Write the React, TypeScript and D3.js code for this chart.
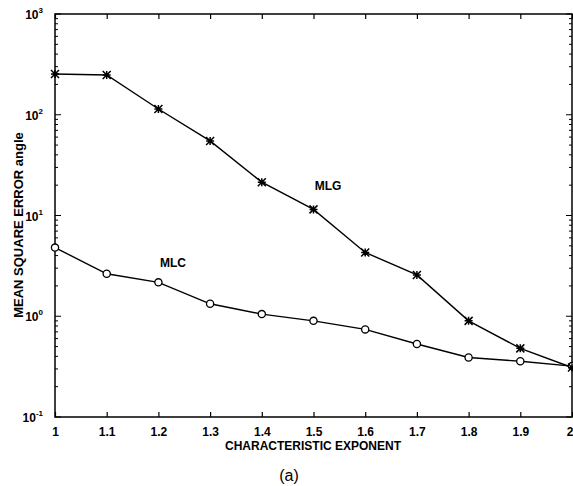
import React, { useEffect, useRef } from 'react'
import { select, scaleLinear, scaleLog, line, axisBottom, axisTop } from 'd3'

// characteristic exponent on x, mean square error (log) on y
const exponents = [1, 1.1, 1.2, 1.3, 1.4, 1.5, 1.6, 1.7, 1.8, 1.9, 2]
const mlgValues = [254, 248, 114, 55, 21.4, 11.5, 4.3, 2.57, 0.9, 0.48, 0.31]
const mlcValues = [4.8, 2.64, 2.17, 1.33, 1.05, 0.9, 0.74, 0.53, 0.39, 0.357, 0.32]
const yDecades = [-1, 0, 1, 2, 3]
const minorSteps = [2, 3, 4, 5, 6, 7, 8, 9]

const W = 573
const H = 486
const left = 55
const right = 572
const top = 14
const bottom = 417
const FONT = '"Liberation Sans", Arial, sans-serif'

function Chart() {
  const svgRef = useRef<SVGSVGElement>(null)

  useEffect(() => {
    const svg = select(svgRef.current)
    svg.selectAll('*').remove()

    const x = scaleLinear().domain([1, 2]).range([left, right])
    const y = scaleLog().domain([0.1, 1000]).range([bottom, top])

    const fmt = (d: any) => (d === 1 || d === 2 ? String(d) : (+d).toFixed(1))

    // bottom axis with inward ticks
    const xAxis = axisBottom(x).tickValues(exponents).tickSizeInner(-5).tickSizeOuter(0).tickPadding(10).tickFormat(fmt)
    const gx = svg.append('g').attr('transform', `translate(0,${bottom})`).call(xAxis)
    gx.select('.domain').remove()
    gx.selectAll('text').attr('font-family', FONT).attr('font-size', 12).attr('font-weight', 'bold').attr('fill', '#000')
    // last label sits right on the page edge, nudge it in so it stays readable
    gx.selectAll('text').filter((d: any) => d === 2).attr('text-anchor', 'end').attr('x', 1)

    const xTop = axisTop(x).tickValues(exponents).tickSizeInner(-5).tickSizeOuter(0).tickFormat(() => '')
    const gt = svg.append('g').attr('transform', `translate(0,${top})`).call(xTop)
    gt.select('.domain').remove()

    svg.selectAll('.tick line').attr('stroke', '#000').attr('stroke-width', 1.2)

    // y ticks, major + log minors, both sides
    const minors: number[] = []
    yDecades.slice(0, -1).forEach(e => minorSteps.forEach(m => minors.push(m * Math.pow(10, e))))
    const yt = svg.append('g')
    const majors = yDecades.map(e => Math.pow(10, e))
    yt.selectAll('.ymaj').data(majors).join('path')
      .attr('d', d => `M${left},${y(d)}h6M${right},${y(d)}h-6`)
      .attr('stroke', '#000').attr('stroke-width', 1.2)
    yt.selectAll('.ymin').data(minors).join('path')
      .attr('d', d => `M${left},${y(d)}h3M${right},${y(d)}h-3`)
      .attr('stroke', '#000').attr('stroke-width', 1)

    const lbl = svg.append('g').selectAll('text').data(yDecades).join('text')
      .attr('x', 43).attr('y', e => y(Math.pow(10, e)) + 5)
      .attr('text-anchor', 'end')
      .attr('font-family', FONT).attr('font-weight', 'bold').attr('font-size', 12)
    lbl.append('tspan').text('10')
    lbl.append('tspan').attr('dy', -6).attr('font-size', 8).text(e => String(e))

    // frame
    svg.append('rect').attr('x', left).attr('y', top).attr('width', right - left).attr('height', bottom - top)
      .attr('fill', 'none').attr('stroke', '#000').attr('stroke-width', 1.5)

    const myLine = line<number>().x((v, i) => x(exponents[i])).y(v => y(v))

    svg.append('path').datum(mlcValues).attr('d', myLine).attr('fill', 'none').attr('stroke', '#000').attr('stroke-width', 1.4)
    svg.append('path').datum(mlgValues).attr('d', myLine).attr('fill', 'none').attr('stroke', '#000').attr('stroke-width', 1.4)

    // circles for MLC
    svg.append('g').selectAll('circle').data(mlcValues).join('circle')
      .attr('cx', (v, i) => x(exponents[i])).attr('cy', v => y(v)).attr('r', 3.6)
      .attr('fill', '#fff').attr('stroke', '#000').attr('stroke-width', 1.3)

    // asterisks for MLG
    const s = 4
    svg.append('g').selectAll('path').data(mlgValues).join('path')
      .attr('d', (v, i) => {
        const cx = x(exponents[i]), cy = y(v)
        return `M${cx - s},${cy - s}L${cx + s},${cy + s}M${cx - s},${cy + s}L${cx + s},${cy - s}M${cx - s},${cy}h${2 * s}M${cx},${cy - s}v${2 * s}`
      })
      .attr('stroke', '#000').attr('stroke-width', 1.5)

    const text = (tx: number, ty: number, t: string, size: number, weight = 'bold', rot = 0) =>
      svg.append('text').attr('transform', `translate(${tx},${ty}) rotate(${rot})`)
        .attr('text-anchor', 'middle').attr('font-family', FONT).attr('font-size', size)
        .attr('font-weight', weight).text(t)

    text(328, 190, 'MLG', 12)
    text(173, 267, 'MLC', 12)
    text(313, 450, 'CHARACTERISTIC EXPONENT', 12)
    text(23, 225, 'MEAN SQUARE ERROR angle', 13, 'bold', -90)
    text(289, 481, '(a)', 16, 'normal')
  }, [])

  return <svg ref={svgRef} width={W} height={H} style={{ position: 'absolute', left: 0, top: 0, background: '#fff' }} />
}

export default function App() {
  return <Chart />
}
